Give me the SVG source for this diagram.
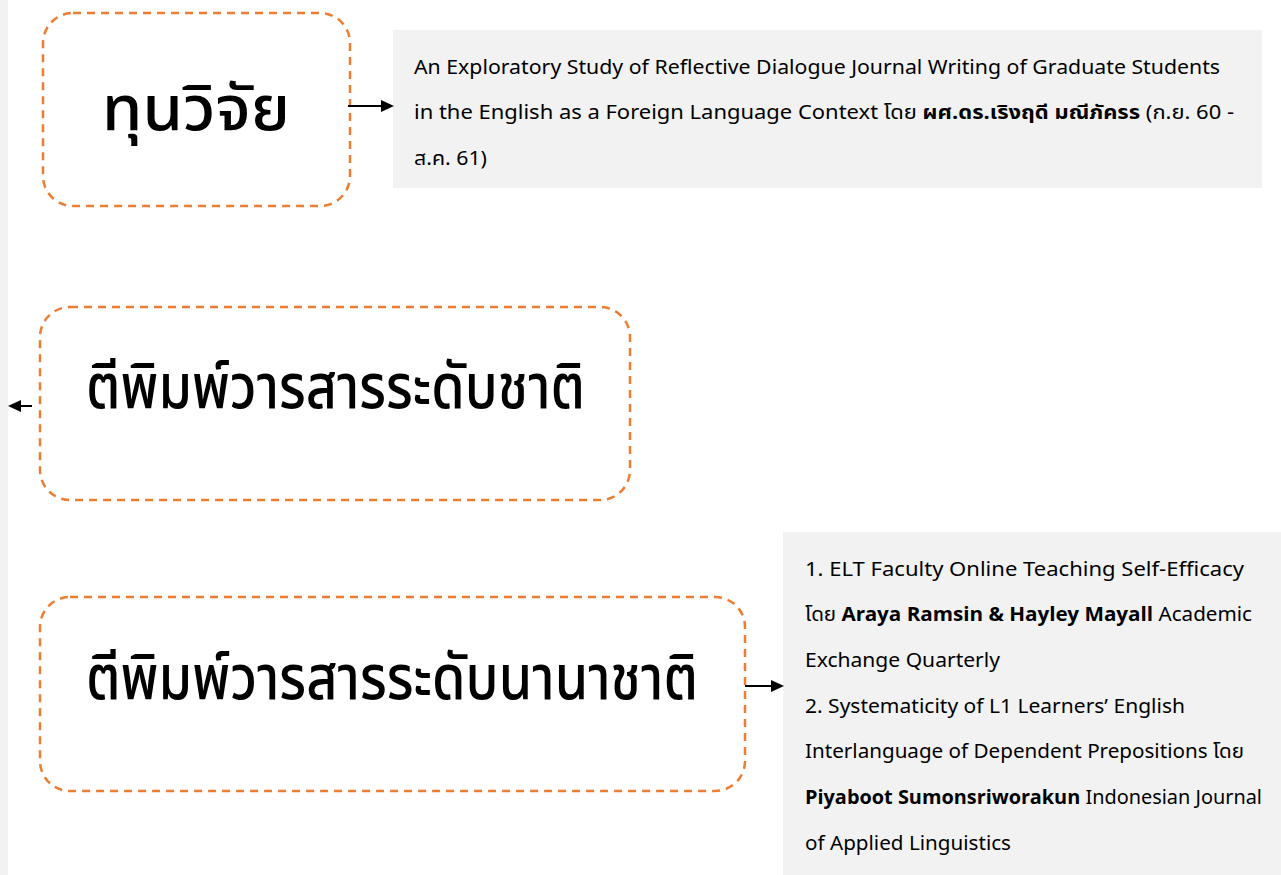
<svg xmlns="http://www.w3.org/2000/svg" width="1281" height="875" viewBox="0 0 1281 875">
<style>
.node{fill:#ffffff;stroke:#ED7D31;stroke-width:2.5;stroke-dasharray:8 6}
.big{font-family:"Noto Sans Thai","Noto Sans","DejaVu Sans",sans-serif;font-size:62px;font-weight:500;fill:#000}
.panel{fill:#F2F2F2}
.t{font-family:"Noto Sans Thai","Noto Sans","Liberation Sans",sans-serif;font-size:19px;fill:#000}
.b{font-weight:bold}
.conn{stroke:#000;stroke-width:2;fill:none}
</style>
<defs>
<marker id="ah" markerWidth="13" markerHeight="12" refX="11" refY="6" orient="auto" markerUnits="userSpaceOnUse">
<path d="M0,0 L13,6 L0,12 z" fill="#000"/>
</marker>
</defs>
<rect x="0" y="0" width="1281" height="875" fill="#ffffff"/>
<rect x="0" y="0" width="8" height="875" fill="#F2F2F2"/>

<g id="panel-top">
<rect class="panel" x="393" y="30" width="869" height="158"/>
<text class="t" x="414" y="74" textLength="806" lengthAdjust="spacingAndGlyphs">An Exploratory Study of Reflective Dialogue Journal Writing of Graduate Students</text>
<text class="t" x="414" y="119" textLength="820" lengthAdjust="spacingAndGlyphs">in the English as a Foreign Language Context โดย <tspan class="b">ผศ.ดร.เริงฤดี มณีภัครร</tspan> (ก.ย. 60 -</text>
<text class="t" x="414" y="165" textLength="73" lengthAdjust="spacingAndGlyphs">ส.ค. 61)</text>
</g>

<g id="panel-bottom">
<rect class="panel" x="783" y="532" width="498" height="343"/>
<text class="t" x="805" y="576" textLength="439" lengthAdjust="spacingAndGlyphs">1. ELT Faculty Online Teaching Self-Efficacy</text>
<text class="t" x="805" y="621" textLength="447" lengthAdjust="spacingAndGlyphs">โดย <tspan class="b">Araya Ramsin &amp; Hayley Mayall</tspan> Academic</text>
<text class="t" x="805" y="667" textLength="195" lengthAdjust="spacingAndGlyphs">Exchange Quarterly</text>
<text class="t" x="805" y="713" textLength="380" lengthAdjust="spacingAndGlyphs">2. Systematicity of L1 Learners’ English</text>
<text class="t" x="805" y="758" textLength="439" lengthAdjust="spacingAndGlyphs">Interlanguage of Dependent Prepositions โดย</text>
<text class="t" x="805" y="804" textLength="457" lengthAdjust="spacingAndGlyphs"><tspan class="b">Piyaboot Sumonsriworakun</tspan> Indonesian Journal</text>
<text class="t" x="805" y="850" textLength="206" lengthAdjust="spacingAndGlyphs">of Applied Linguistics</text>
</g>

<g id="node-fund">
<rect class="node" x="43" y="13" width="307" height="193" rx="30" ry="30"/>
<text class="big" x="102" y="130" textLength="188" lengthAdjust="spacingAndGlyphs">ทุนวิจัย</text>
</g>

<g id="node-national">
<rect class="node" x="40" y="307" width="590" height="193" rx="30" ry="30"/>
<text class="big" x="86" y="408" textLength="499" lengthAdjust="spacingAndGlyphs">ตีพิมพ์วารสารระดับชาติ</text>
</g>

<g id="node-international">
<rect class="node" x="40" y="597" width="705" height="194" rx="30" ry="30"/>
<text class="big" x="86" y="699" textLength="612" lengthAdjust="spacingAndGlyphs">ตีพิมพ์วารสารระดับนานาชาติ</text>
</g>

<g id="connectors">
<line class="conn" x1="348" y1="106" x2="392" y2="106" marker-end="url(#ah)"/>
<line class="conn" x1="32" y1="406" x2="10" y2="406" marker-end="url(#ah)"/>
<line class="conn" x1="745" y1="686" x2="782" y2="686" marker-end="url(#ah)"/>
</g>
</svg>
